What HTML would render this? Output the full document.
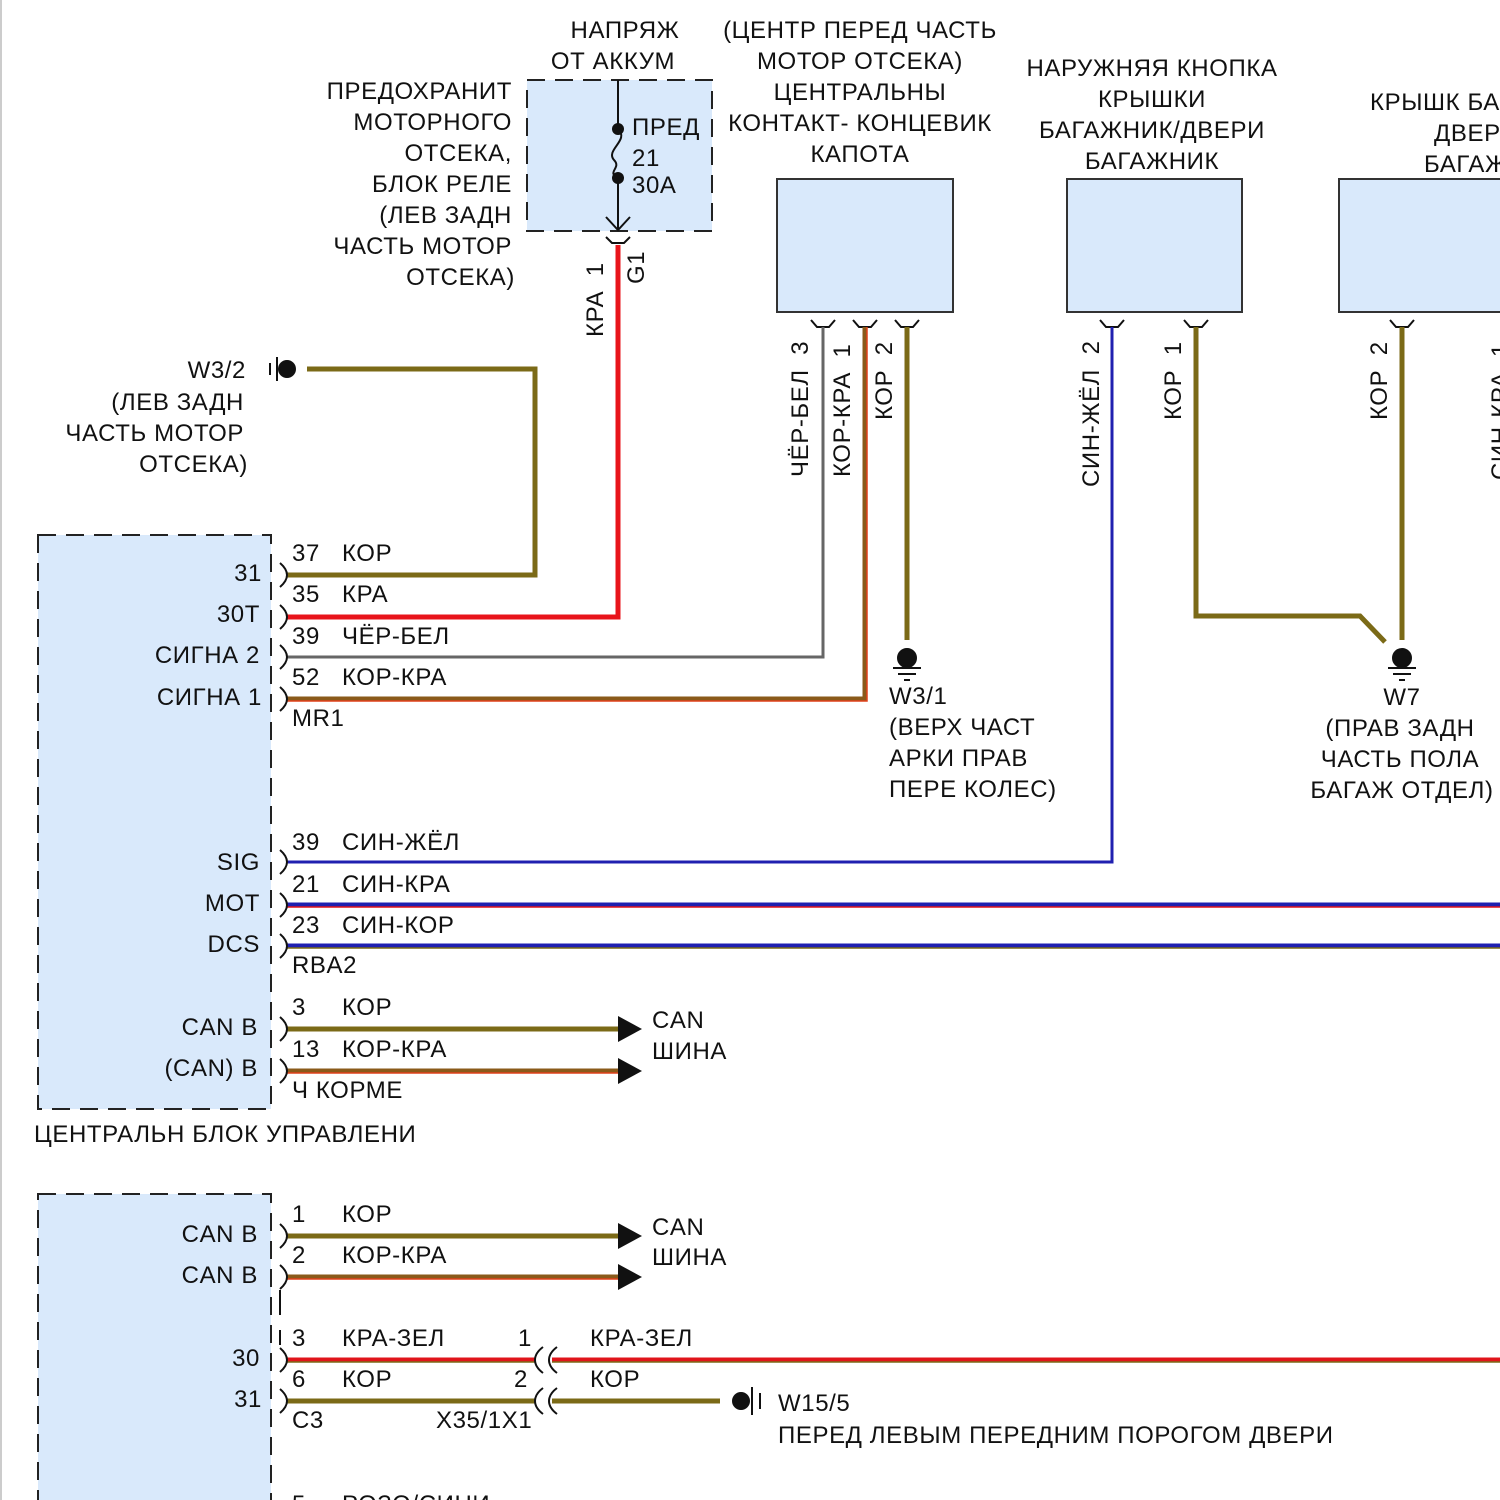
<!DOCTYPE html>
<html><head><meta charset="utf-8"><style>
html,body{margin:0;padding:0;background:#fff}
svg{display:block}
text{font-family:"Liberation Sans",Arial,sans-serif;font-size:24px;letter-spacing:0.6px;fill:#111;white-space:pre}
.r{text-anchor:end}.m{text-anchor:middle}
</style></head><body>
<svg width="1500" height="1500" viewBox="0 0 1500 1500" xmlns="http://www.w3.org/2000/svg" xml:space="preserve">
<line x1="1" y1="0" x2="1" y2="1500" stroke="#ccc" stroke-width="2"/>
<rect x="527" y="80" width="185" height="151" fill="#d9e9fb" stroke="#222" stroke-width="2" stroke-dasharray="18,10"/>
<rect x="777" y="179" width="176" height="133" fill="#d9e9fb" stroke="#333" stroke-width="2"/>
<rect x="1067" y="179" width="175" height="133" fill="#d9e9fb" stroke="#333" stroke-width="2"/>
<rect x="1339" y="179" width="175" height="133" fill="#d9e9fb" stroke="#333" stroke-width="2"/>
<rect x="38" y="535" width="233" height="574" fill="#d9e9fb" stroke="#222" stroke-width="2" stroke-dasharray="18,10"/>
<rect x="38" y="1194" width="233" height="330" fill="#d9e9fb" stroke="#222" stroke-width="2" stroke-dasharray="18,10"/>
<rect x="40" y="537" width="229" height="570" fill="#d9e9fb"/>
<rect x="40" y="1196" width="229" height="310" fill="#d9e9fb"/>

<line x1="618" y1="80" x2="618" y2="129" stroke="#111" stroke-width="2"/>
<path d="M618 129 C630 140,605 150,614 160 C622 168,606 172,618 178" fill="none" stroke="#111" stroke-width="2"/>
<line x1="618" y1="178" x2="618" y2="230" stroke="#111" stroke-width="2"/>
<path d="M606 217 L618 230 L630 217" fill="none" stroke="#111" stroke-width="2"/>
<circle cx="618" cy="129" r="6" fill="#111"/><circle cx="618" cy="178" r="6" fill="#111"/>
<text x="632" y="135">ПРЕД</text><text x="632" y="166">21</text><text x="632" y="193">30A</text>
<path d="M606 237 l6 6 h12 l6 -6" fill="none" stroke="#111" stroke-width="2"/>

<g fill="none" stroke="#111" stroke-width="2">
<path d="M811 320 l6 7 h12 l6 -7"/><path d="M853 320 l6 7 h12 l6 -7"/><path d="M895 320 l6 7 h12 l6 -7"/>
<path d="M1100 320 l6 7 h12 l6 -7"/><path d="M1184 320 l6 7 h12 l6 -7"/><path d="M1390 320 l6 7 h12 l6 -7"/>
</g>

<g fill="none" stroke-linejoin="miter">
<path d="M618 245 V617 H287" stroke="#e8141b" stroke-width="5"/>
<path d="M307 369 H535 V575 H287" stroke="#7b6a17" stroke-width="5"/>
<path d="M823 327 V657 H287" stroke="#666" stroke-width="3"/>
<path d="M865 327 V699 H287" stroke="#8a5a1a" stroke-width="5"/>
<path d="M867 327 V701 H287" stroke="#e0401a" stroke-width="1.5"/>
<path d="M907 327 V640" stroke="#7b6a17" stroke-width="5"/>
<path d="M1112 327 V862 H287" stroke="#2020b0" stroke-width="3"/>
<path d="M1196 327 V616 H1360 L1385 642" stroke="#7b6a17" stroke-width="5"/>
<path d="M1402 327 V640" stroke="#7b6a17" stroke-width="5"/>
<path d="M287 905 H1500" stroke="#2020b0" stroke-width="5"/>
<path d="M287 907 H1500" stroke="#e0141b" stroke-width="1.5"/>
<path d="M287 946 H1500" stroke="#2020b0" stroke-width="5"/>
<path d="M287 948 H1500" stroke="#7b6a17" stroke-width="1.5"/>
<path d="M287 1029 H620" stroke="#7b6a17" stroke-width="5"/>
<path d="M287 1071 H620" stroke="#8a5a1a" stroke-width="5"/>
<path d="M287 1073 H620" stroke="#e0401a" stroke-width="1.5"/>
<path d="M287 1236 H620" stroke="#7b6a17" stroke-width="5"/>
<path d="M287 1277 H620" stroke="#8a5a1a" stroke-width="5"/>
<path d="M287 1279 H620" stroke="#e0401a" stroke-width="1.5"/>
<path d="M287 1360 H535 M552 1360 H1500" stroke="#e0141b" stroke-width="5"/>
<path d="M287 1362 H535 M552 1362 H1500" stroke="#7b6a17" stroke-width="1.5"/>
<path d="M287 1401 H535 M552 1401 H720" stroke="#7b6a17" stroke-width="5"/>
</g>
<g fill="#111">
<path d="M618 1016 L642 1029 L618 1042Z"/><path d="M618 1058 L642 1071 L618 1084Z"/>
<path d="M618 1223 L642 1236 L618 1249Z"/><path d="M618 1264 L642 1277 L618 1290Z"/>
</g>
<g fill="none" stroke="#111" stroke-width="2">
<path d="M280 563 q7 6 7 12 q0 6 -7 12"/><path d="M280 605 q7 6 7 12 q0 6 -7 12"/>
<path d="M280 645 q7 6 7 12 q0 6 -7 12"/><path d="M280 687 q7 6 7 12 q0 6 -7 12"/>
<path d="M280 850 q7 6 7 12 q0 6 -7 12"/><path d="M280 893 q7 6 7 12 q0 6 -7 12"/>
<path d="M280 934 q7 6 7 12 q0 6 -7 12"/><path d="M280 1017 q7 6 7 12 q0 6 -7 12"/>
<path d="M280 1059 q7 6 7 12 q0 6 -7 12"/><path d="M280 1224 q7 6 7 12 q0 6 -7 12"/>
<path d="M280 1265 q7 6 7 12 q0 6 -7 12"/><path d="M280 1348 q7 6 7 12 q0 6 -7 12"/>
<path d="M280 1389 q7 6 7 12 q0 6 -7 12"/>
<line x1="280" y1="1290" x2="280" y2="1315"/><line x1="280" y1="1330" x2="280" y2="1345"/>
<path d="M543 1347 q-8 6 -8 13 q0 7 8 13"/><path d="M557 1347 q-8 6 -8 13 q0 7 8 13"/>
<path d="M543 1388 q-8 6 -8 13 q0 7 8 13"/><path d="M557 1388 q-8 6 -8 13 q0 7 8 13"/>
</g>
<g stroke="#111" stroke-width="2" fill="#111">
<circle cx="287" cy="369" r="8"/><line x1="277" y1="357" x2="277" y2="381"/><line x1="270" y1="363" x2="270" y2="375"/>
<circle cx="907" cy="658" r="9"/><line x1="893" y1="668" x2="921" y2="668"/><line x1="898" y1="674" x2="916" y2="674"/><line x1="904" y1="680" x2="910" y2="680"/>
<circle cx="1402" cy="658" r="9"/><line x1="1388" y1="668" x2="1416" y2="668"/><line x1="1393" y1="674" x2="1411" y2="674"/><line x1="1399" y1="680" x2="1405" y2="680"/>
<circle cx="741" cy="1401" r="8"/><line x1="752" y1="1387" x2="752" y2="1415"/><line x1="760" y1="1393" x2="760" y2="1409"/>
</g>

<text class="m" x="625" y="38">НАПРЯЖ</text><text class="m" x="613" y="69">ОТ АККУМ</text>
<text class="r" x="512" y="99">ПРЕДОХРАНИТ</text><text class="r" x="512" y="130">МОТОРНОГО</text><text class="r" x="512" y="161">ОТСЕКА,</text>
<text class="r" x="512" y="192">БЛОК РЕЛЕ</text><text class="r" x="512" y="223">(ЛЕВ ЗАДН</text><text class="r" x="512" y="254">ЧАСТЬ МОТОР</text><text class="r" x="515" y="285">ОТСЕКА)</text>
<text class="m" x="860" y="38">(ЦЕНТР ПЕРЕД ЧАСТЬ</text><text class="m" x="860" y="69">МОТОР ОТСЕКА)</text><text class="m" x="860" y="100">ЦЕНТРАЛЬНЫ</text>
<text class="m" x="860" y="131">КОНТАКТ- КОНЦЕВИК</text><text class="m" x="860" y="162">КАПОТА</text>
<text class="m" x="1152" y="76">НАРУЖНЯЯ КНОПКА</text><text class="m" x="1152" y="107">КРЫШКИ</text><text class="m" x="1152" y="138">БАГАЖНИК/ДВЕРИ</text><text class="m" x="1152" y="169">БАГАЖНИК</text>
<text x="1370" y="110">КРЫШК БАГАЖ</text><text x="1434" y="141">ДВЕРИ</text><text x="1424" y="172">БАГАЖНИК</text>

<g>
<text transform="translate(603,337) rotate(-90)">КРА  1</text>
<text transform="translate(644,284) rotate(-90)">G1</text>
<text transform="translate(808,477) rotate(-90)">ЧЁР-БЕЛ  3</text>
<text transform="translate(850,477) rotate(-90)">КОР-КРА  1</text>
<text transform="translate(892,420) rotate(-90)">КОР  2</text>
<text transform="translate(1099,487) rotate(-90)">СИН-ЖЁЛ  2</text>
<text transform="translate(1181,420) rotate(-90)">КОР  1</text>
<text transform="translate(1387,420) rotate(-90)">КОР  2</text>
<text transform="translate(1508,480) rotate(-90)">СИН-КРА  1</text>
</g>

<text class="r" x="246" y="378">W3/2</text><text class="r" x="244" y="410">(ЛЕВ ЗАДН</text><text class="r" x="244" y="441">ЧАСТЬ МОТОР</text><text class="r" x="248" y="472">ОТСЕКА)</text>
<text x="889" y="704">W3/1</text><text x="889" y="735">(ВЕРХ ЧАСТ</text><text x="889" y="766">АРКИ ПРАВ</text><text x="889" y="797">ПЕРЕ КОЛЕС)</text>
<text class="m" x="1402" y="705">W7</text><text class="m" x="1400" y="736">(ПРАВ ЗАДН</text><text class="m" x="1400" y="767">ЧАСТЬ ПОЛА</text><text class="m" x="1402" y="798">БАГАЖ ОТДЕЛ)</text>

<text class="r" x="262" y="581">31</text><text class="r" x="260" y="622">30T</text><text class="r" x="260" y="663">СИГНА 2</text><text class="r" x="262" y="705">СИГНА 1</text>
<text class="r" x="260" y="870">SIG</text><text class="r" x="260" y="911">MOT</text><text class="r" x="260" y="952">DCS</text>
<text class="r" x="258" y="1035">CAN B</text><text class="r" x="258" y="1076">(CAN) B</text>
<text x="292" y="561">37</text><text x="342" y="561">КОР</text>
<text x="292" y="602">35</text><text x="342" y="602">КРА</text>
<text x="292" y="644">39</text><text x="342" y="644">ЧЁР-БЕЛ</text>
<text x="292" y="685">52</text><text x="342" y="685">КОР-КРА</text>
<text x="292" y="726">MR1</text>
<text x="292" y="850">39</text><text x="342" y="850">СИН-ЖЁЛ</text>
<text x="292" y="892">21</text><text x="342" y="892">СИН-КРА</text>
<text x="292" y="933">23</text><text x="342" y="933">СИН-КОР</text>
<text x="292" y="973">RBA2</text>
<text x="292" y="1015">3</text><text x="342" y="1015">КОР</text>
<text x="292" y="1057">13</text><text x="342" y="1057">КОР-КРА</text>
<text x="292" y="1098">Ч КОРМЕ</text>
<text x="652" y="1028">CAN</text><text x="652" y="1059">ШИНА</text>
<text x="34" y="1142">ЦЕНТРАЛЬН БЛОК УПРАВЛЕНИ</text>

<text class="r" x="258" y="1242">CAN B</text><text class="r" x="258" y="1283">CAN B</text>
<text class="r" x="260" y="1366">30</text><text class="r" x="262" y="1407">31</text>
<text x="292" y="1222">1</text><text x="342" y="1222">КОР</text>
<text x="292" y="1263">2</text><text x="342" y="1263">КОР-КРА</text>
<text x="652" y="1235">CAN</text><text x="652" y="1265">ШИНА</text>
<text x="292" y="1346">3</text><text x="342" y="1346">КРА-ЗЕЛ</text><text x="518" y="1346">1</text><text x="590" y="1346">КРА-ЗЕЛ</text>
<text x="292" y="1387">6</text><text x="342" y="1387">КОР</text><text x="514" y="1387">2</text><text x="590" y="1387">КОР</text>
<text x="292" y="1428">C3</text><text x="436" y="1428">X35/1X1</text>
<text x="778" y="1411">W15/5</text><text x="778" y="1443">ПЕРЕД ЛЕВЫМ ПЕРЕДНИМ ПОРОГОМ ДВЕРИ</text>
<text x="292" y="1512">5</text><text x="342" y="1512">РОЗО/СИНИ</text>
</svg>
</body></html>
